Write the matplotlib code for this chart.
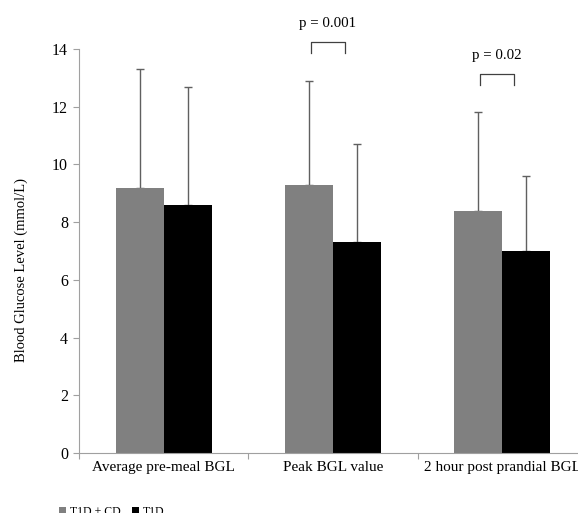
import numpy as np
import matplotlib.pyplot as plt
import matplotlib.ticker as ticker

plt.rcParams['font.family'] = ['Liberation Serif', 'DejaVu Serif']

categories = ['Average pre-meal BGL', 'Peak BGL value', '2 hour post prandial BGL']
t1d_cd = [9.2, 9.3, 8.4]
t1d_cd_sd = [4.1, 3.6, 3.4]
t1d = [8.6, 7.3, 7.0]
t1d_sd = [4.1, 3.4, 2.6]
p_labels = ['', 'p = 0.001', 'p = 0.02']

fig = plt.figure(figsize=(5.78, 5.13), dpi=100)
ax = fig.add_axes([79/578, 60/513, 508/578, 404/513])

x = np.arange(len(categories))
w = 0.284
zeros = np.zeros(len(x))
b1 = ax.bar(x - w/2, t1d_cd, w, color='#808080', label='T1D + CD', zorder=2)
b2 = ax.bar(x + w/2, t1d, w, color='black', label='T1D', zorder=2)
# only the upper half of the error bars, drawn behind the bars
ax.errorbar(x - w/2, t1d_cd, yerr=[zeros, t1d_cd_sd], fmt='none', ecolor='#606060',
            elinewidth=1, capsize=3, capthick=1, zorder=1)
ax.errorbar(x + w/2, t1d, yerr=[zeros, t1d_sd], fmt='none', ecolor='#606060',
            elinewidth=1, capsize=3, capthick=1, zorder=1)

ax.set_xlim(-0.5, 2.5)
ax.set_ylim(0, 14)
ax.yaxis.set_major_locator(ticker.MultipleLocator(2))
ax.set_xticks([-0.5, 0.5, 1.5, 2.5])
ax.set_xticklabels([])
ax.set_xticks(x, minor=True)
ax.set_xticklabels(categories, minor=True, fontsize=11)
ax.tick_params(axis='x', which='minor', length=0, pad=6)
ax.tick_params(axis='x', which='major', length=4, color='#a0a0a0')
ax.tick_params(axis='y', length=4, color='#a0a0a0', labelsize=11.5, pad=4)
for s in ['top', 'right']:
    ax.spines[s].set_visible(False)
ax.spines['left'].set_color('#a0a0a0')
ax.spines['bottom'].set_color('#a0a0a0')
ax.set_ylabel('Blood Glucose Level (mmol/L)', fontsize=10.5)
ax.yaxis.set_label_coords(-0.1, 0.453)

# significance brackets
for i, lab in enumerate(p_labels):
    if not lab:
        continue
    base = max(t1d_cd[i] + t1d_cd_sd[i], t1d[i] + t1d_sd[i]) + 0.95
    xl, xr = i - 0.13, i + 0.07
    ax.plot([xl, xl, xr, xr], [base, base + 0.4, base + 0.4, base],
            color='#404040', linewidth=0.9, clip_on=False)
    ax.text(i - 0.03, base + 1.02, lab, ha='center', va='center', fontsize=10.7,
            clip_on=False)

fig.legend(handles=[b1, b2], labels=['T1D + CD', 'T1D'], loc='upper left',
           bbox_to_anchor=(0.102, 0.014), ncol=2, frameon=False, fontsize=8.5,
           handlelength=0.6, handleheight=0.6, handletextpad=0.3, columnspacing=1.0,
           borderaxespad=0, borderpad=0)

fig.savefig('out.png', dpi=100)
